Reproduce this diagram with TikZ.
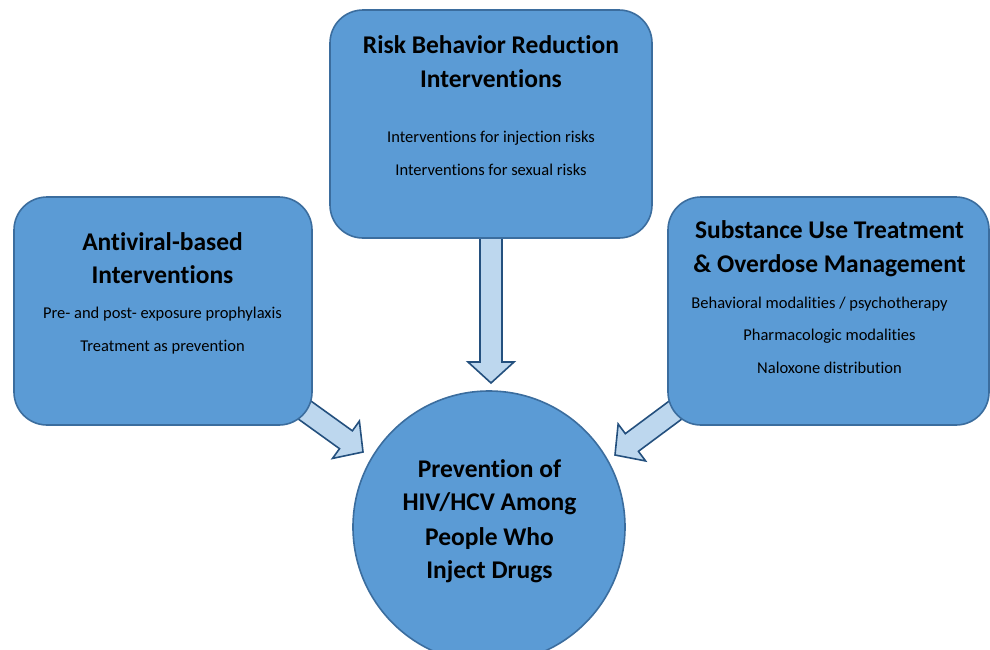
\documentclass[tikz,border=0pt]{standalone}
\usepackage{fontspec}
\setmainfont{Carlito}[Ligatures=NoCommon]
\usetikzlibrary{calc}
\definecolor{boxfill}{HTML}{5B9BD5}
\definecolor{boxline}{HTML}{3B6D9E}
\definecolor{arrfill}{HTML}{BDD7EE}
\definecolor{arrline}{HTML}{24507E}
\newcommand\mytitle{\fontsize{25.5}{30}\selectfont\bfseries}
\newcommand\mybody{\fontsize{16.5}{20}\selectfont}
\newcommand\blockarrow[2]{%
  \coordinate (#1#2h) at ($(#2)!21pt!(#1)$);
  \draw[blockarrow] ($(#1)!11pt!90:(#2)$) -- ($(#1#2h)!11pt!90:(#2)$) -- ($(#1#2h)!23pt!90:(#2)$) -- (#2) -- ($(#1#2h)!23pt!-90:(#2)$) -- ($(#1#2h)!11pt!-90:(#2)$) -- ($(#1)!11pt!-90:(#2)$) -- cycle;}
\tikzset{
  box/.style={draw=boxline, fill=boxfill, line width=1.6pt, rounded corners=33pt, minimum height=228pt, inner sep=0pt},
  hub/.style={circle, draw=boxline, fill=boxfill, line width=1.6pt, minimum size=272pt, inner sep=0pt},
  blockarrow/.style={draw=arrline, fill=arrfill, line width=1.6pt, line join=miter},
  ttl/.style={anchor=base, inner sep=0pt, font=\mytitle},
  bdy/.style={anchor=base, inner sep=0pt, font=\mybody}
}
\begin{document}
\begin{tikzpicture}[x=1pt, y=-1pt]
\useasboundingbox (0,0) rectangle (990,649);
\fill[white] (0,0) rectangle (990,649);
% arrow end points
\coordinate (ts) at (491,200);
\coordinate (tt) at (491,383);
\coordinate (ls) at (290,399.5);
\coordinate (lt) at (363,452);
\coordinate (rs) at (687,401.5);
\coordinate (rt) at (615,455);
\blockarrow{ts}{tt}
\blockarrow{ls}{lt}
\blockarrow{rs}{rt}
% boxes
\node[box, minimum width=322pt] (top) at (491,124) {};
\node[box, minimum width=298pt] (left) at (163,311) {};
\node[box, minimum width=321pt] (right) at (828.5,311) {};
\node[hub] (hub) at (489,527) {};
% top box text
\node[ttl] (t1) at (491,53) {Risk Behavior Reduction};
\node[ttl] (t2) at (491,87) {Interventions};
\node[bdy] (t3) at (491,142) {Interventions for injection risks};
\node[bdy] (t4) at (491,175) {Interventions for sexual risks};
% left box text
\node[ttl] (l1) at (162.5,250) {Antiviral-based};
\node[ttl] (l2) at (162.5,283) {Interventions};
\node[bdy] (l3) at (162.5,318) {Pre- and post- exposure prophylaxis};
\node[bdy] (l4) at (162.5,351) {Treatment as prevention};
% right box text
\node[ttl] (r1) at (829.5,238) {Substance Use Treatment};
\node[ttl] (r2) at (829.5,272) {\& Overdose Management};
\node[bdy] (r3) at (819.5,308) {Behavioral modalities / psychotherapy};
\node[bdy] (r4) at (829.5,340) {Pharmacologic modalities};
\node[bdy] (r5) at (829.5,373) {Naloxone distribution};
% hub text
\node[ttl] (h1) at (489.5,477) {Prevention of};
\node[ttl] (h2) at (489.5,510) {HIV/HCV Among};
\node[ttl] (h3) at (489.5,545) {People Who};
\node[ttl] (h4) at (489.5,578) {Inject Drugs};
\end{tikzpicture}
\end{document}
